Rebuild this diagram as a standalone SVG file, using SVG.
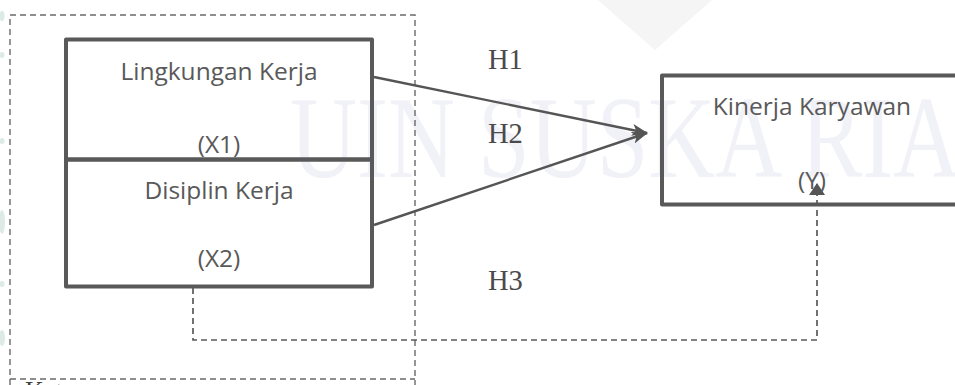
<svg xmlns="http://www.w3.org/2000/svg" width="955" height="385" viewBox="0 0 955 385">
  <defs>
    <style>
      .box { fill: none; stroke: #595959; stroke-width: 4; stroke-linejoin: round; }
      .lbl { font-family: "Open Sans", "Liberation Sans", sans-serif; font-size: 24.5px; fill: #595959; text-anchor: middle; }
      .hyp { font-family: "Liberation Serif", "Times New Roman", serif; font-size: 28.5px; fill: #4a4a4a; }
      .frame { fill: none; stroke: #6a6a6a; stroke-width: 1.4; stroke-dasharray: 6 4; }
      .solid { fill: none; stroke: #555555; stroke-width: 2.4; }
      .dash { fill: none; stroke: #595959; stroke-width: 1.7; stroke-dasharray: 6 4; }
      .mark { font-family: "Liberation Serif", "Times New Roman", serif; font-size: 116px; fill: #f1f1f8; }
    </style>
    <marker id="stealth" viewBox="0 0 16 12" refX="15" refY="6" markerWidth="16" markerHeight="12" markerUnits="userSpaceOnUse" orient="auto">
      <path d="M0,0 L16,6 L0,12 L4,6 Z" fill="#555555"/>
    </marker>
    <marker id="tri" viewBox="0 0 12 16" refX="11" refY="8" markerWidth="12" markerHeight="16" markerUnits="userSpaceOnUse" orient="auto">
      <path d="M0,0 L12,8 L0,16 Z" fill="#555555"/>
    </marker>
  </defs>

  <rect width="955" height="385" fill="#ffffff"/>

  <!-- faint background watermark -->
  <g id="watermark">
    <polygon points="598,0 712,0 655,50" fill="#f5f5f5"/>
    <text class="mark" transform="translate(290,177) scale(0.8,1)" x="0" y="0">UIN SUSKA RIAU</text>
    <g fill="#dcebe5">
      <ellipse cx="2" cy="16" rx="2.5" ry="5"/>
      <ellipse cx="2" cy="55" rx="2.5" ry="3"/>
      <ellipse cx="2" cy="141" rx="2.5" ry="3"/>
      <ellipse cx="2" cy="222" rx="3" ry="12"/>
      <ellipse cx="2" cy="284" rx="2.5" ry="3"/>
      <ellipse cx="2" cy="338" rx="3" ry="8"/>
    </g>
  </g>

  <!-- dashed grouping frame for the independent variables -->
  <g id="frame">
    <path class="frame" d="M10,385 V15 H415 V385 M10,379 H415"/>
    <text x="25" y="399" font-family="Liberation Serif, Times New Roman, serif" font-size="26" fill="#404040">Keterangan</text>
  </g>

  <g id="x1">
    <rect class="box" x="66" y="39.5" width="306" height="120"/>
    <text class="lbl" x="219" y="80">Lingkungan Kerja</text>
    <text class="lbl" x="219" y="153">(X1)</text>
  </g>

  <g id="x2">
    <rect class="box" x="66" y="159.5" width="306" height="127"/>
    <text class="lbl" x="219" y="199">Disiplin Kerja</text>
    <text class="lbl" x="219" y="267">(X2)</text>
  </g>

  <g id="y">
    <path class="box" d="M960,75.5 H662 V204.5 H960"/>
    <text class="lbl" x="812" y="115">Kinerja Karyawan</text>
    <text class="lbl" x="812" y="189">(Y)</text>
  </g>

  <g id="connectors">
    <line class="solid" x1="374" y1="77" x2="647" y2="133" marker-end="url(#stealth)"/>
    <line class="solid" x1="374" y1="225" x2="647" y2="133" marker-end="url(#stealth)"/>
    <path class="dash" d="M193,288 V340 H817 V184" marker-end="url(#tri)"/>
  </g>

  <g id="labels">
    <text class="hyp" x="488" y="69">H1</text>
    <text class="hyp" x="488" y="143">H2</text>
    <text class="hyp" x="488" y="290">H3</text>
  </g>
</svg>
